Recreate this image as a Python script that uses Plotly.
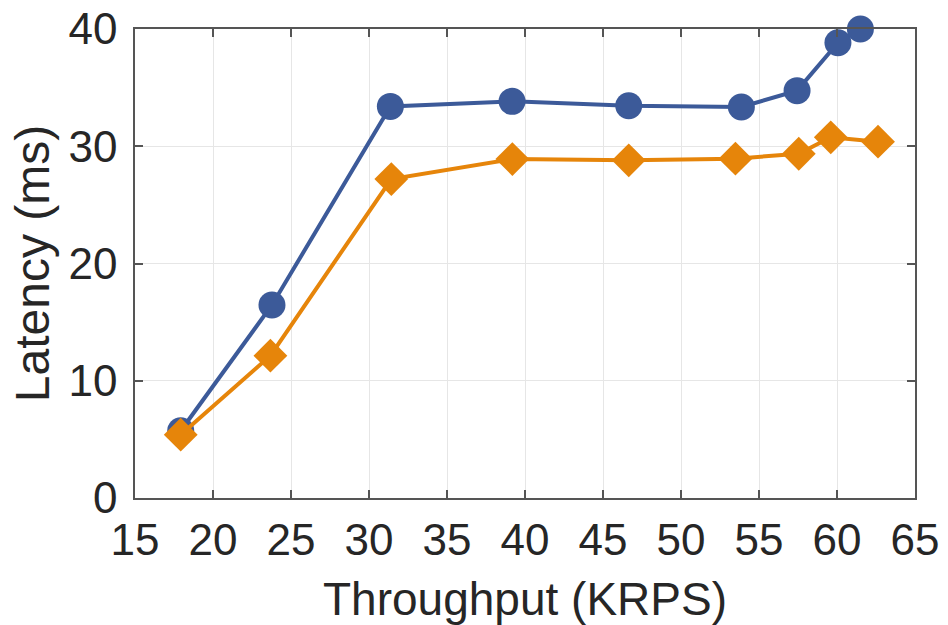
import plotly.graph_objects as go

x_blue = [17.93, 23.78, 31.37, 39.17, 46.65, 53.87, 57.44, 60.06, 61.5]
y_blue = [5.74, 16.46, 33.4, 33.83, 33.46, 33.35, 34.74, 38.83, 40.0]
x_orange = [17.93, 23.68, 31.43, 39.19, 46.65, 53.49, 57.55, 59.6, 62.63]
y_orange = [5.4, 12.14, 27.2, 28.91, 28.8, 28.94, 29.36, 30.76, 30.39]

x_ticks = [15, 20, 25, 30, 35, 40, 45, 50, 55, 60, 65]
y_ticks = [0, 10, 20, 30, 40]

BLUE = "#3C5A99"
ORANGE = "#E6850A"
TXT = "#262626"
FONT = "Liberation Sans, Arial, sans-serif"

fig = go.Figure()
fig.add_trace(go.Scatter(
    x=x_blue, y=y_blue, mode="lines+markers",
    line=dict(color=BLUE, width=4),
    marker=dict(symbol="circle", size=27, color=BLUE),
    cliponaxis=False, showlegend=False))
fig.add_trace(go.Scatter(
    x=x_orange, y=y_orange, mode="lines+markers",
    line=dict(color=ORANGE, width=4),
    marker=dict(symbol="diamond", size=26, color=ORANGE),
    cliponaxis=False, showlegend=False))

axis_common = dict(
    showline=True, linecolor="#555555", linewidth=1.5, mirror="ticks",
    ticks="inside", ticklen=8, tickwidth=1.5, tickcolor="#555555",
    showgrid=True, gridcolor="#E6E6E6", gridwidth=1, automargin=False,
    zeroline=False, tickfont=dict(family=FONT, size=44, color=TXT),
    ticklabeloverflow="allow",
)

fig.update_xaxes(range=[15, 65], tickvals=x_ticks, ticktext=[str(v) for v in x_ticks],
                 title=dict(text="Throughput (KRPS)", font=dict(family=FONT, size=46, color=TXT), standoff=20),
                 ticklabelstandoff=2,
                 **axis_common)
fig.update_yaxes(range=[0, 40], tickvals=y_ticks, ticktext=[str(v) for v in y_ticks],
                 title=dict(text="Latency (ms)", font=dict(family=FONT, size=48, color=TXT), standoff=4),
                 ticklabelstandoff=7,
                 **axis_common)

fig.update_layout(
    width=948, height=625,
    margin=dict(l=135, r=33, t=29, b=127),
    paper_bgcolor="white", plot_bgcolor="white",
)

fig.write_html("out.html", config={"displayModeBar": False},
               post_script="document.body.style.margin='0';")
